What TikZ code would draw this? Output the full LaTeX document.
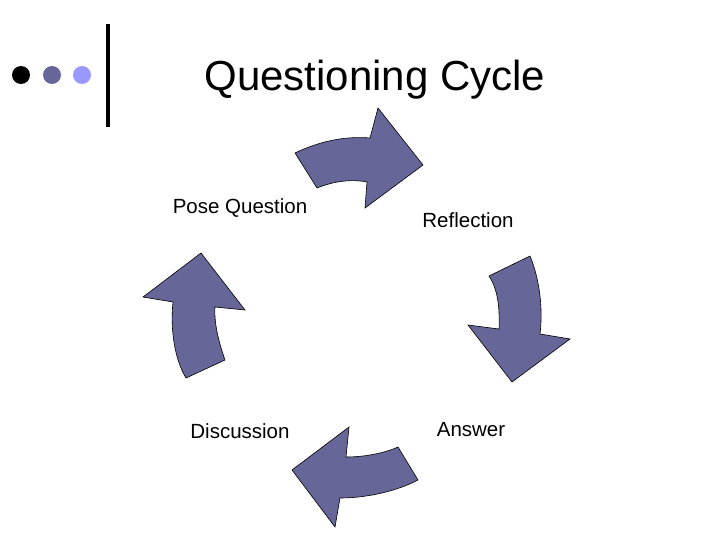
\documentclass[tikz,border=0pt]{standalone}
\usepackage{fontspec}
\setmainfont{Liberation Sans}
\definecolor{arrowfill}{HTML}{666699}
\definecolor{dotmid}{HTML}{666699}
\definecolor{dotlight}{HTML}{9999FF}
\begin{document}
\begin{tikzpicture}[x=1pt,y=-1pt,
  cyclearrow/.style={fill=arrowfill,draw=black,line width=0.6pt,line join=miter},
  lbl/.style={font=\fontsize{20.5}{24}\selectfont,inner sep=0pt},
  dot/.style={circle,inner sep=0pt,minimum size=18pt}]
\useasboundingbox (0,0) rectangle (720,540);
\fill[white] (0,0) rectangle (720,540);
% decoration
\node[dot,fill=black] (d1) at (21,75) {};
\node[dot,fill=dotmid] (d2) at (52,75) {};
\node[dot,fill=dotlight] (d3) at (82,75) {};
\draw[line width=4pt] (108,24) -- (108,127);
% title
\node[font=\fontsize{42}{48}\selectfont,inner sep=0pt] (title) at (375,80) {Questioning Cycle};
% labels
\node[lbl] (pose) at (240,208) {Pose Question};
\node[lbl] (refl) at (468,220) {Reflection};
\node[lbl] (disc) at (240,431) {Discussion};
\node[lbl] (answ) at (471,430) {Answer};
% top arrow
\draw[cyclearrow] (295,153) .. controls (320,141) and (345,136) .. (370,138)
  -- (378,108) -- (423,165) -- (365,208) -- (367,182)
  .. controls (352,179) and (334,181) .. (317,188) -- cycle;
% right arrow
\draw[cyclearrow] (530,256) .. controls (540,280) and (543,310) .. (540,334)
  -- (570,339) -- (512,382) -- (468,325) -- (499,329)
  .. controls (500,305) and (497,288) .. (489,276) -- cycle;
% bottom arrow
\draw[cyclearrow] (418,480) .. controls (395,492) and (365,498) .. (340,498)
  -- (335,527) -- (292,470) -- (349,427) -- (346,457)
  .. controls (365,457) and (385,453) .. (398,447) -- cycle;
% left arrow
\draw[cyclearrow] (225,360) .. controls (218,340) and (214,322) .. (215,307)
  -- (245,310) -- (201,253) -- (143,297) -- (173,302)
  .. controls (170,330) and (175,360) .. (186,378) -- cycle;
\end{tikzpicture}
\end{document}
